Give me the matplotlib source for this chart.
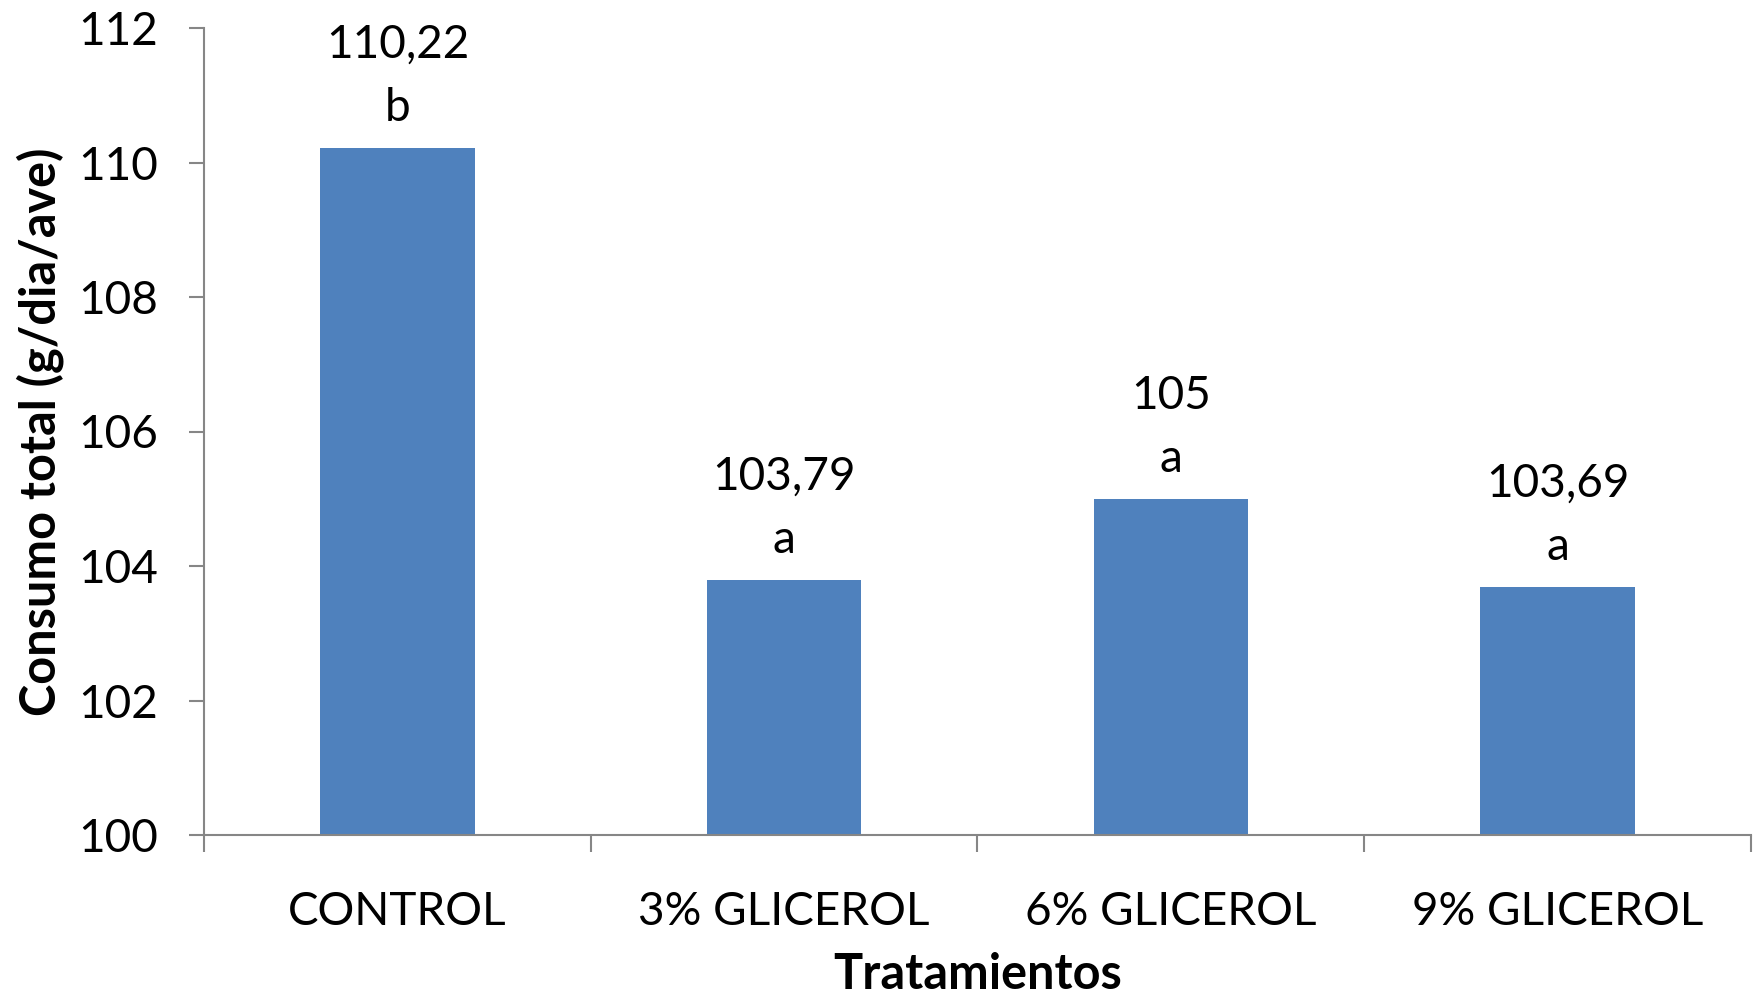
import matplotlib
matplotlib.use("Agg")
import matplotlib.pyplot as plt
from matplotlib.ticker import FixedLocator

# Consumo total por tratamiento
categories = ["CONTROL", "3% GLICEROL", "6% GLICEROL", "9% GLICEROL"]
consumo = [110.22, 103.79, 105.0, 103.69]
value_labels = ["110,22", "103,79", "105", "103,69"]
letters = ["b", "a", "a", "a"]
y_ticks = [100, 102, 104, 106, 108, 110, 112]

plt.rcParams["font.family"] = ["Lato", "DejaVu Sans"]

W, H = 1758, 1000
fig = plt.figure(figsize=(W / 100, H / 100), dpi=100)
ax = fig.add_axes([204 / W, 1 - 835 / H, (1751 - 204) / W, (835 - 28) / H])

bar_color = "#4F81BD"
axis_color = "#868686"
fs = 33
fs_title = 35

x = list(range(len(categories)))
ax.bar(x, consumo, width=0.4, color=bar_color, zorder=2)

ax.set_ylim(y_ticks[0], y_ticks[-1])
ax.set_xlim(-0.5, len(categories) - 0.5)
ax.yaxis.set_major_locator(FixedLocator(y_ticks))
ax.set_yticklabels([str(t) for t in y_ticks], fontsize=fs)

ax.set_xticks(x)
ax.set_xticklabels(categories, fontsize=fs)
ax.xaxis.set_minor_locator(FixedLocator([i - 0.5 for i in range(len(categories) + 1)]))
ax.tick_params(axis="x", which="major", length=0, pad=40)
ax.tick_params(axis="x", which="minor", length=12, width=1.5, color=axis_color, direction="out")
ax.tick_params(axis="y", which="major", length=11, width=1.5, color=axis_color, direction="out", pad=22)

for side in ("top", "right"):
    ax.spines[side].set_visible(False)
for side in ("left", "bottom"):
    ax.spines[side].set_color(axis_color)
    ax.spines[side].set_linewidth(1.5)

ax.set_ylabel("Consumo total (g/dia/ave)", fontsize=fs_title, fontweight="bold", labelpad=10)
ax.set_xlabel("Tratamientos", fontsize=fs_title, fontweight="bold", labelpad=14)

for xi, v, lab, let in zip(x, consumo, value_labels, letters):
    ax.annotate(f"{lab}\n{let}", xy=(xi, v), xytext=(0, 19), textcoords="offset pixels",
                ha="center", va="bottom", fontsize=fs, linespacing=1.62, clip_on=False)

fig.savefig("out.png", dpi=100, facecolor="white")
